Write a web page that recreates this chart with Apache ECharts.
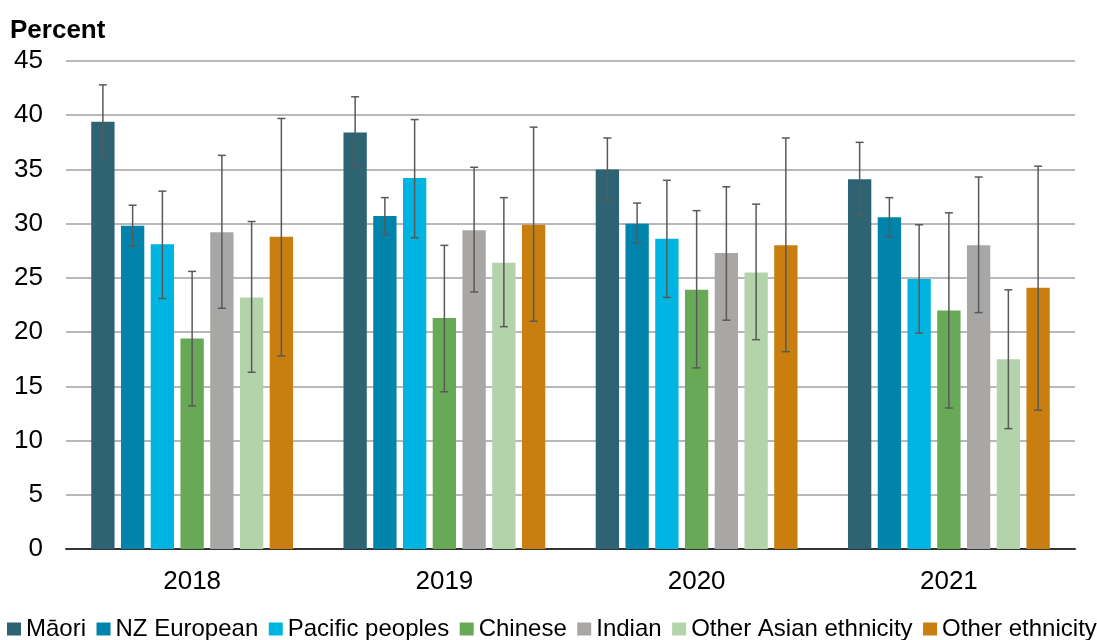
<!DOCTYPE html>
<html>
<head>
<meta charset="utf-8">
<script src="https://cdn.jsdelivr.net/npm/echarts@6/dist/echarts.min.js"></script>
<style>
  html, body { margin: 0; padding: 0; background: #fff; }
  #chart { width: 1097px; height: 640px; }
</style>
</head>
<body>
<div id="chart"></div>
<script>
// categories
const years = ['2018', '2019', '2020', '2021']
const groups = ['Māori', 'NZ European', 'Pacific peoples', 'Chinese', 'Indian', 'Other Asian ethnicity', 'Other ethnicity']
const yTicks = [0, 5, 10, 15, 20, 25, 30, 35, 40, 45]

// percent per year
const maori = [39.4, 38.4, 35.0, 34.1]
const nzEuropean = [29.8, 30.7, 30.0, 30.6]
const pacific = [28.1, 34.2, 28.6, 24.9]
const chinese = [19.4, 21.3, 23.9, 22.0]
const indian = [29.2, 29.4, 27.3, 28.0]
const otherAsian = [23.2, 26.4, 25.5, 17.5]
const otherEthnicity = [28.8, 29.9, 28.0, 24.1]

// error bars [low, high] per year
const maoriCI = [[36.1, 42.8], [35.3, 41.7], [32.1, 37.9], [30.8, 37.5]]
const nzEuropeanCI = [[27.9, 31.7], [29.0, 32.4], [28.2, 31.9], [28.8, 32.4]]
const pacificCI = [[23.1, 33.0], [28.7, 39.6], [23.2, 34.0], [19.9, 29.9]]
const chineseCI = [[13.2, 25.6], [14.5, 28.0], [16.7, 31.2], [13.0, 31.0]]
const indianCI = [[22.2, 36.3], [23.7, 35.2], [21.1, 33.4], [21.8, 34.3]]
const otherAsianCI = [[16.3, 30.2], [20.5, 32.4], [19.3, 31.8], [11.1, 23.9]]
const otherEthnicityCI = [[17.8, 39.7], [21.0, 38.9], [18.2, 37.9], [12.8, 35.3]]

const values = [maori, nzEuropean, pacific, chinese, indian, otherAsian, otherEthnicity]
const cis = [maoriCI, nzEuropeanCI, pacificCI, chineseCI, indianCI, otherAsianCI, otherEthnicityCI]
const colors = ['#2d6373', '#0084ab', '#00b4e2', '#68a957', '#a8a7a6', '#b3d4aa', '#c87f10']

const CAT_GAP = 0.2
const BAR_GAP = 0.275
const font = 'Liberation Sans, Arial, sans-serif'

let myChart = echarts.init(document.getElementById('chart'))

// error bar for series idx, placed like the bars
function errorRender(idx) {
  return function (params, api) {
    const cat = api.value(0)
    const lo = api.coord([cat, api.value(1)])
    const hi = api.coord([cat, api.value(2)])
    const band = api.size([1, 0])[0]
    const n = groups.length
    const inner = band * (1 - CAT_GAP)
    const bw = inner / (n + (n - 1) * BAR_GAP)
    const x = lo[0] - inner / 2 + idx * bw * (1 + BAR_GAP) + bw / 2
    const cap = 4
    const style = { stroke: '#595959', lineWidth: 1.5 }
    return {
      type: 'group',
      children: [
        { type: 'line', shape: { x1: x, y1: lo[1], x2: x, y2: hi[1] }, style: style },
        { type: 'line', shape: { x1: x - cap, y1: lo[1], x2: x + cap, y2: lo[1] }, style: style },
        { type: 'line', shape: { x1: x - cap, y1: hi[1], x2: x + cap, y2: hi[1] }, style: style }
      ]
    }
  }
}

let series = []
groups.forEach(function (name, i) {
  series.push({
    name: name,
    type: 'bar',
    data: values[i],
    itemStyle: { color: colors[i] },
    barGap: (BAR_GAP * 100) + '%',
    barCategoryGap: (CAT_GAP * 100) + '%'
  })
})
groups.forEach(function (name, i) {
  series.push({
    type: 'custom',
    renderItem: errorRender(i),
    data: cis[i].map(function (d, j) { return [j, d[0], d[1]] }),
    z: 10,
    silent: true
  })
})

let option = {
  animation: false,
  color: colors,
  title: {
    text: 'Percent',
    left: 10,
    top: 18,
    padding: 0,
    textStyle: { fontFamily: font, fontSize: 26, fontWeight: 'bold', color: '#000' }
  },
  grid: {
    left: 66,
    right: 22,
    top: 61,
    bottom: 91,
    outerBoundsMode: 'none'
  },
  legend: {
    data: groups,
    left: 7,
    top: 617,
    padding: 0,
    itemWidth: 14,
    itemHeight: 13,
    itemGap: 10.5,
    icon: 'rect',
    textStyle: { fontFamily: font, fontSize: 24, color: '#000' }
  },
  xAxis: {
    type: 'category',
    data: years,
    axisLine: { lineStyle: { color: '#333', width: 2 } },
    axisTick: { show: false },
    axisLabel: { fontFamily: font, fontSize: 26, color: '#000', margin: 20 }
  },
  yAxis: {
    type: 'value',
    min: yTicks[0],
    max: yTicks[yTicks.length - 1],
    interval: 5,
    axisLine: { show: false },
    axisTick: { show: false },
    splitLine: { lineStyle: { color: '#a0a0a0', width: 1.5 } },
    axisLabel: { fontFamily: font, fontSize: 26, color: '#000', margin: 23 }
  },
  series: series
}

myChart.setOption(option)
window.addEventListener('resize', function () {
  myChart.resize()
})
</script>
</body>
</html>
